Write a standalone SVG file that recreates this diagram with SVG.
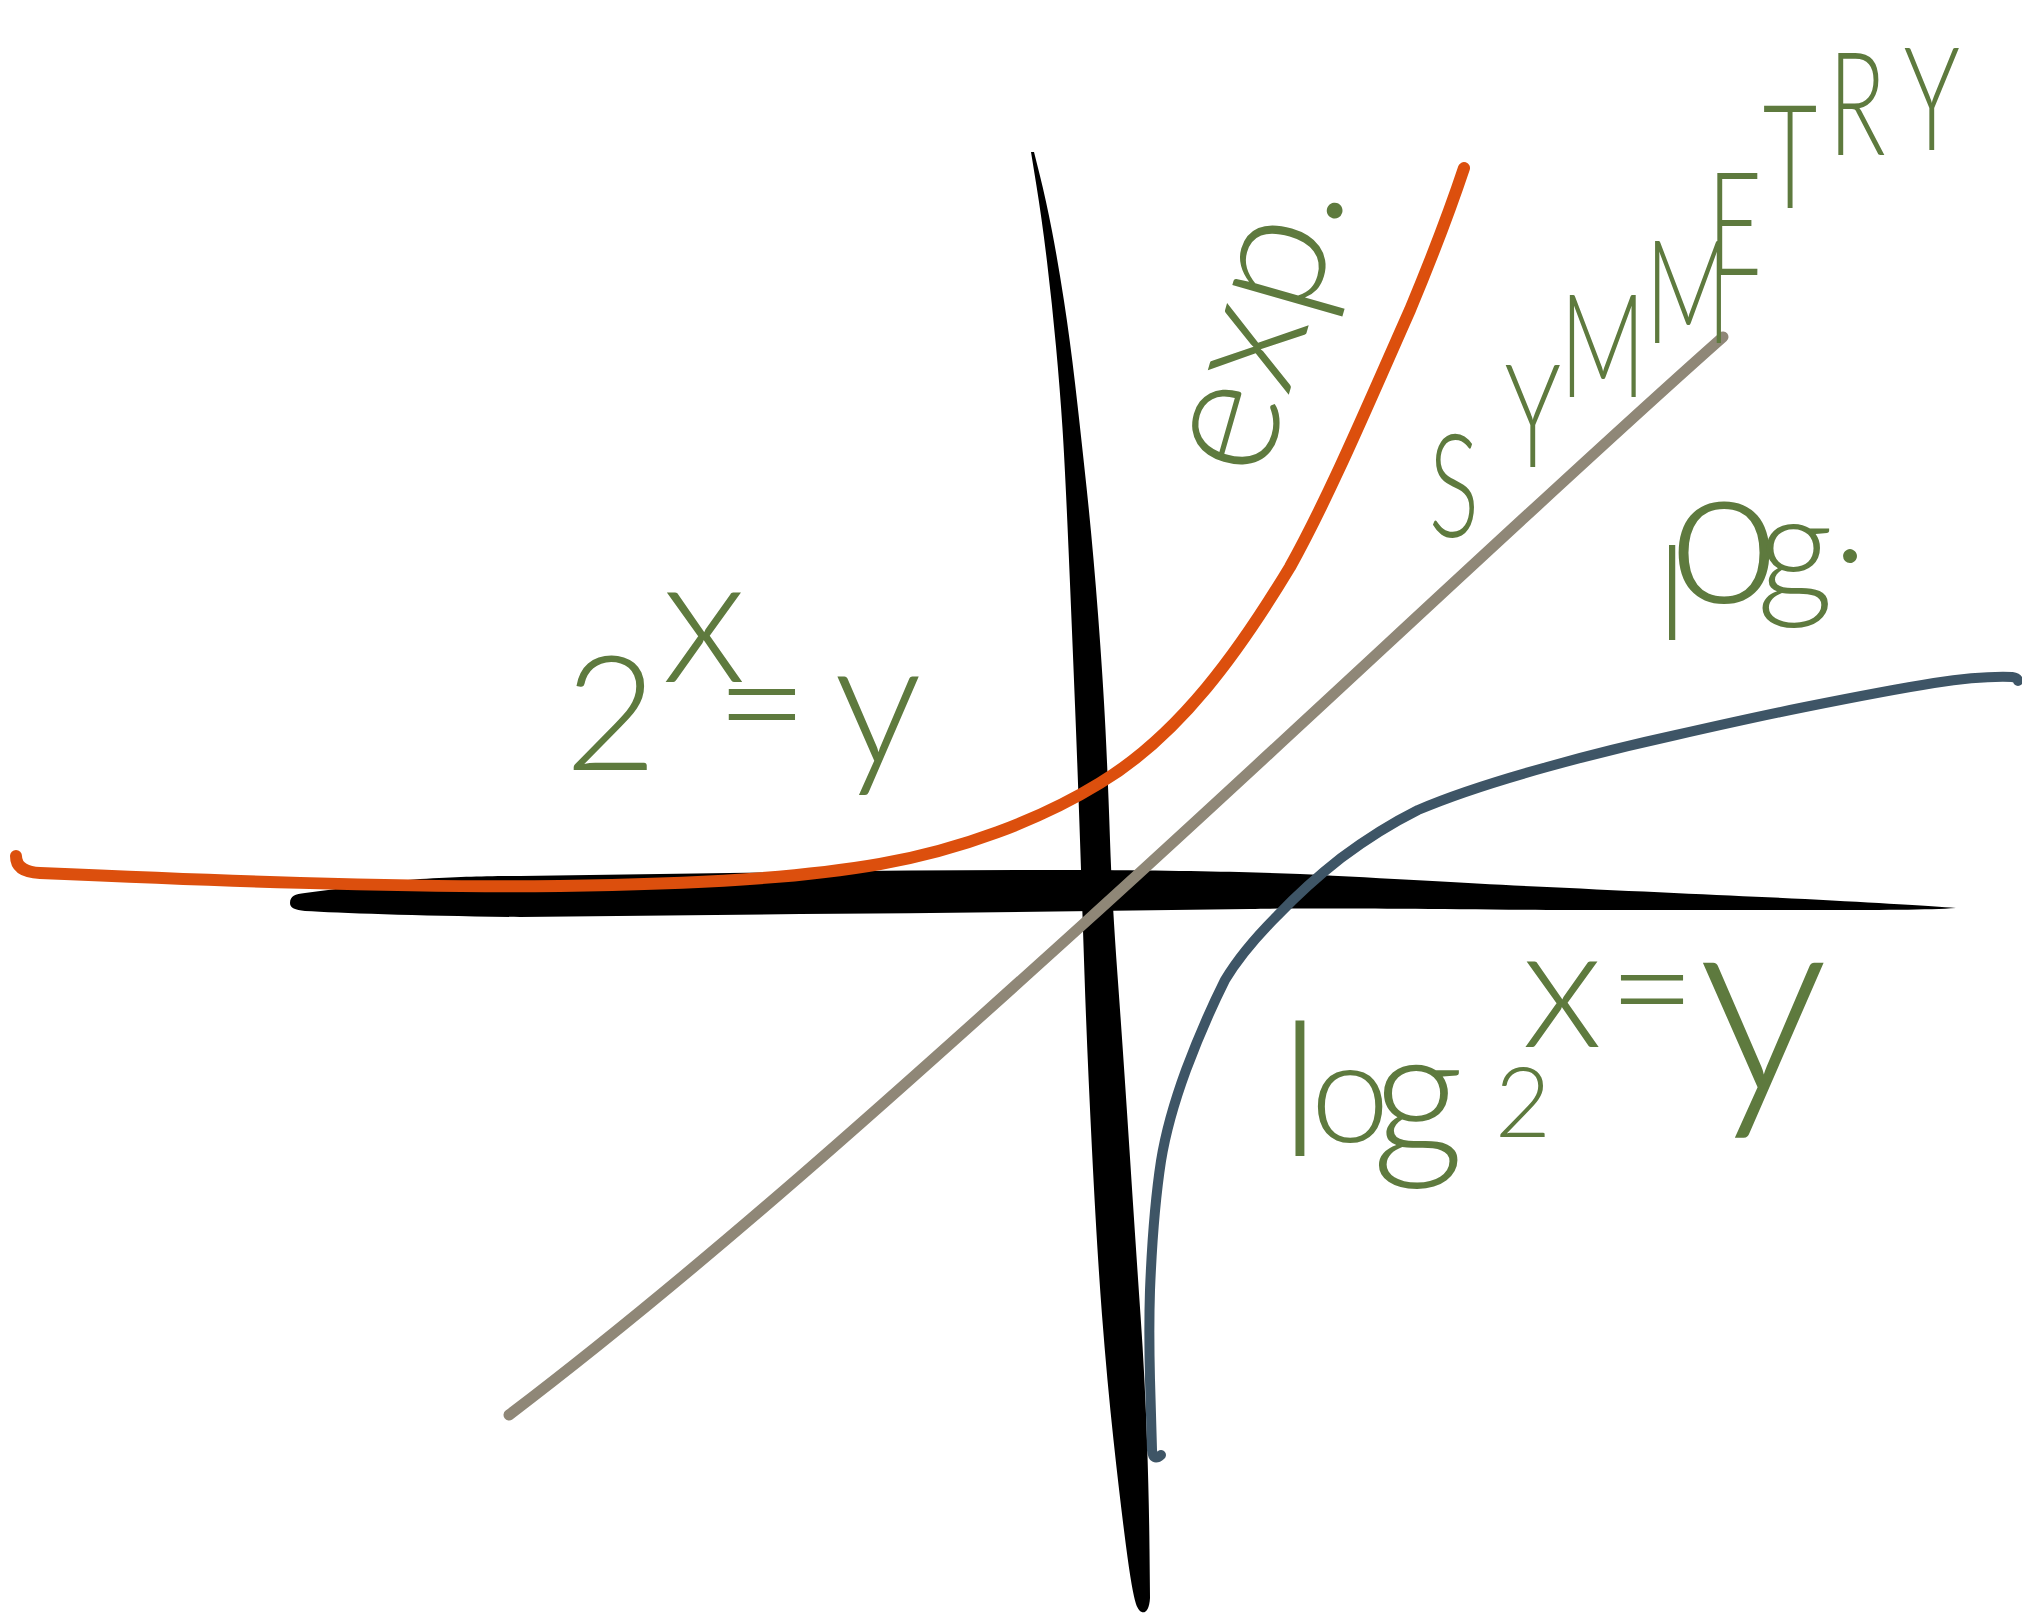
<svg xmlns="http://www.w3.org/2000/svg" width="2022" height="1618" viewBox="0 0 2022 1618">
<style>
.hand{fill:#5e7a3e;font-family:Lato,"Open Sans","Liberation Sans",sans-serif;font-weight:300}
.mid{text-anchor:middle}
.curve{fill:none;stroke-linecap:round;stroke-linejoin:round}
</style>
<rect width="2022" height="1618" fill="#ffffff"/>
<g id="axes" fill="#000000">
  <path id="y-axis" d="M1031,152 L1036.5,186 Q1042,220 1047,261.5 Q1052,303 1056,346.5 Q1060,390 1062.5,428.5 Q1065,467 1068.5,548.5 Q1072,630 1075,705 Q1078,780 1080,840 Q1082,900 1084.5,975 Q1087,1050 1092,1150 Q1097,1250 1102,1315 Q1107,1380 1113.5,1440 Q1120,1500 1126,1546 Q1132,1592 1136,1604 C1140,1616 1149,1616 1150,1598 L1149.5,1549 Q1149,1500 1147,1440 Q1145,1380 1140.5,1315 Q1136,1250 1129.5,1150 Q1123,1050 1117.5,975 Q1112,900 1110,840 Q1108,780 1105.5,730 Q1103,680 1098,614 Q1093,548 1086.5,487 Q1080,426 1075,383 Q1070,340 1064,301 Q1058,262 1052,231 Q1046,200 1040,176 L1034,152 Z"/>
  <path id="x-axis" d="M290,903 C290,896 295,894 305,893 C340,889 380,882 420,879 C460,877 480,876 520,876 L800,872 C900,870 1000,870 1100,870 C1200,871 1250,872 1300,874 C1400,879 1480,884 1547,887 C1650,892 1740,896 1805,899 C1880,903 1930,906 1956,908 C1930,910 1880,910 1805,910 L1547,910 C1400,909 1300,908 1250,909 C1100,911 950,913 800,914 L520,917 C420,916 340,913 305,911 C295,910 290,908 290,903 Z"/>
</g>
<g id="connectors">
  <path id="symmetry-line" class="curve" stroke="#8f8777" stroke-width="11" d="M509,1415 C700,1270 900,1090 1090,918 C1300,728 1550,490 1723,337"/>
  <path id="exp-curve" class="curve" stroke="#dc4f0d" stroke-width="12" d="M16,856 Q16,872 40,873 C200,880 400,888 560,886 C700,884 800,878 880,864 C960,850 1040,820 1100,783 C1180,735 1240,650 1290,567 C1330,495 1370,400 1410,310 C1430,262 1450,210 1464,168"/>
  <path id="log-curve" class="curve" stroke="#3e5566" stroke-width="10" d="M1161,1455 Q1153,1462 1152,1450 L1150,1380 C1149,1340 1149,1320 1150,1290 C1152,1240 1155,1200 1161,1161 C1166,1130 1175,1100 1186,1070 C1198,1038 1210,1010 1225,980 C1240,955 1258,935 1277,916 C1297,895 1318,876 1341,858 C1365,840 1390,824 1418,810 C1460,792 1500,780 1547,767 C1590,755 1630,745 1676,735 C1720,725 1760,716 1805,707 C1850,698 1890,690 1934,683 C1960,679 1985,676 2012,677 Q2018,678 2018,681"/>
</g>
<g id="label-exp">
  <text class="hand mid" font-size="170" transform="translate(1305,338) rotate(-74)">exp.</text>
</g>
<g id="label-symmetry">
  <text class="hand mid" font-size="145" transform="scale(0.65,1)" x="2237 2358 2466 2597 2669 2754 2857 2972" y="537 467 397 343 275 208 155 150">SYMMETRY</text>
</g>
<g id="label-log">
  <text class="hand mid"><tspan x="1672" y="640" font-size="130">l</tspan><tspan x="1724" y="603" font-size="200">o</tspan><tspan x="1795" y="600" font-size="150">g</tspan><tspan x="1850" y="562" font-size="150">.</tspan></text>
</g>
<g id="label-2x">
  <text class="hand mid"><tspan x="611" y="770" font-size="160">2</tspan><tspan x="704" y="682" font-size="180">x</tspan><tspan x="762" y="759" font-size="160">=</tspan><tspan x="878" y="764" font-size="175">y</tspan></text>
</g>
<g id="label-log2x">
  <text class="hand mid"><tspan x="1300" y="1156" font-size="185">l</tspan><tspan x="1350" y="1142" font-size="142">o</tspan><tspan x="1418" y="1156" font-size="180">g</tspan><tspan x="1523" y="1137" font-size="97">2</tspan><tspan x="1562" y="1047" font-size="172">x</tspan><tspan x="1652" y="1040" font-size="150">=</tspan><tspan x="1763" y="1092" font-size="260">y</tspan></text>
</g>
</svg>
